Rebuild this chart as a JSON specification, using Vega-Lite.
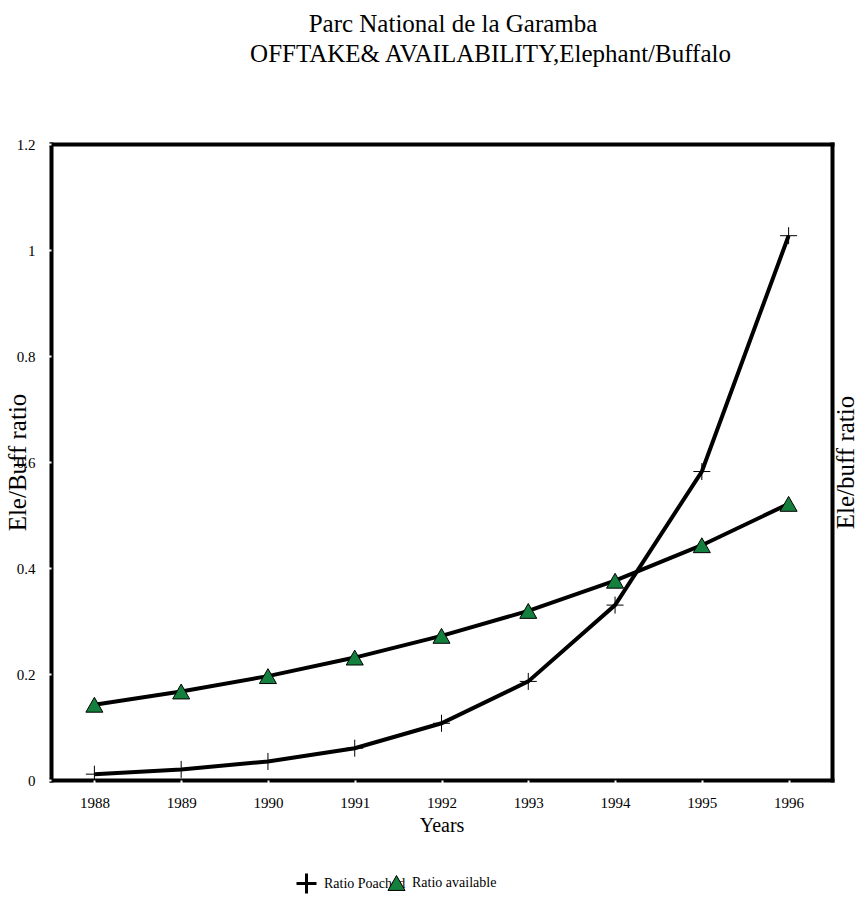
{
  "$schema": "https://vega.github.io/schema/vega-lite/v6.json",
  "width": 781,
  "height": 636,
  "autosize": {"type": "none"},
  "padding": {"left": 51, "top": 144, "right": 25, "bottom": 144},
  "background": "white",
  "title": {
    "text": ["Parc National de la Garamba\u00a0\u00a0\u00a0\u00a0\u00a0\u00a0\u00a0\u00a0\u00a0\u00a0\u00a0\u00a0\u200b", "OFFTAKE& AVAILABILITY,Elephant/Buffalo"],
    "anchor": "middle",
    "frame": "group",
    "dx": 49,
    "baseline": "bottom",
    "offset": 45,
    "lineHeight": 30,
    "font": "Liberation Serif",
    "fontSize": 25,
    "fontWeight": "normal",
    "color": "black"
  },
  "data": {
    "values": [
      {"year": "1988", "series": "Ratio Poached", "ratio": 0.011},
      {"year": "1989", "series": "Ratio Poached", "ratio": 0.020},
      {"year": "1990", "series": "Ratio Poached", "ratio": 0.035},
      {"year": "1991", "series": "Ratio Poached", "ratio": 0.060},
      {"year": "1992", "series": "Ratio Poached", "ratio": 0.107},
      {"year": "1993", "series": "Ratio Poached", "ratio": 0.186},
      {"year": "1994", "series": "Ratio Poached", "ratio": 0.330},
      {"year": "1995", "series": "Ratio Poached", "ratio": 0.582},
      {"year": "1996", "series": "Ratio Poached", "ratio": 1.027},
      {"year": "1988", "series": "Ratio available", "ratio": 0.142},
      {"year": "1989", "series": "Ratio available", "ratio": 0.167},
      {"year": "1990", "series": "Ratio available", "ratio": 0.196},
      {"year": "1991", "series": "Ratio available", "ratio": 0.231},
      {"year": "1992", "series": "Ratio available", "ratio": 0.272},
      {"year": "1993", "series": "Ratio available", "ratio": 0.319},
      {"year": "1994", "series": "Ratio available", "ratio": 0.376},
      {"year": "1995", "series": "Ratio available", "ratio": 0.443},
      {"year": "1996", "series": "Ratio available", "ratio": 0.521}
    ]
  },
  "layer": [
    {
      "mark": {"type": "line", "color": "black", "strokeWidth": 4, "strokeJoin": "miter"},
      "encoding": {
        "x": {
          "field": "year", "type": "ordinal",
          "scale": {"type": "point", "padding": 0.5},
          "axis": {
            "orient": "bottom",
            "title": "Years",
            "labelAngle": 0,
            "titleFontSize": 20,
            "titlePadding": 5,
            "labelFontSize": 15,
            "tickSize": 4,
            "tickColor": "rgba(0,0,0,0)",
            "labelPadding": 11
          }
        },
        "y": {
          "field": "ratio", "type": "quantitative",
          "scale": {"domain": [0, 1.2], "nice": false, "zero": true},
          "axis": {
            "orient": "left",
            "title": "Ele/Buff ratio",
            "values": [0, 0.2, 0.4, 0.6, 0.8, 1, 1.2],
            "format": "~g",
            "labelFontSize": 15,
            "tickSize": 4,
            "tickColor": "rgba(0,0,0,0)",
            "labelPadding": 12,
            "titleFontSize": 25,
            "titleAngle": -90,
            "titleX": -26,
            "titleY": 318,
            "titleAlign": "center",
            "titleBaseline": "alphabetic"
          }
        },
        "detail": {"field": "series", "type": "nominal"}
      }
    },
    {
      "transform": [{"filter": "datum.series === 'Ratio Poached'"}],
      "mark": {"type": "point", "shape": "M-1,0H1M0,-1V1", "filled": false, "opacity": 1, "strokeWidth": 1, "size": 289},
      "encoding": {
        "x": {
          "field": "year", "type": "ordinal",
          "axis": {"orient": "top", "labels": false, "ticks": false, "title": null, "domain": true}
        },
        "y": {
          "field": "ratio", "type": "quantitative",
          "axis": {
            "orient": "right",
            "labels": false,
            "ticks": false,
            "domain": true,
            "title": "Ele/buff ratio",
            "titleFontSize": 25,
            "titleAngle": -90,
            "titleX": 21,
            "titleY": 318,
            "titleAlign": "center",
            "titleBaseline": "alphabetic"
          }
        },
        "stroke": {
          "field": "series", "type": "nominal",
          "scale": {"domain": ["Ratio Poached"], "range": ["black"]},
          "legend": {
            "title": null,
            "orient": "none",
            "legendX": 244,
            "legendY": 728,
            "padding": 0,
            "symbolSize": 400,
            "symbolStrokeWidth": 3,
            "symbolStrokeColor": "black",
            "labelFontSize": 14,
            "labelFont": "Liberation Serif",
            "labelColor": "black",
            "labelOffset": 6,
            "zindex": 0
          }
        }
      }
    },
    {
      "transform": [{"filter": "datum.series === 'Ratio available'"}],
      "mark": {"type": "point", "shape": "M0,-0.875L1,0.875L-1,0.875Z", "filled": true, "opacity": 1, "strokeWidth": 1, "stroke": "black", "size": 289},
      "encoding": {
        "x": {
          "field": "year", "type": "ordinal",
          "axis": {
            "orient": "bottom", "labels": false, "domain": false, "title": null,
            "ticks": true, "tickColor": "white", "tickWidth": 2, "tickSize": 4, "zindex": 1,
            "encode": {"ticks": {"y": {"value": -3}, "y2": {"value": 3}}}
          }
        },
        "y": {
          "field": "ratio", "type": "quantitative",
          "axis": {
            "orient": "left", "labels": false, "domain": false, "title": null,
            "values": [0, 0.2, 0.4, 0.6, 0.8, 1, 1.2],
            "ticks": true, "tickColor": "white", "tickWidth": 2, "tickSize": 4, "zindex": 1,
            "encode": {"ticks": {"x": {"value": 3}, "x2": {"value": -3}}}
          }
        },
        "fill": {
          "field": "series", "type": "nominal",
          "scale": {"domain": ["Ratio available"], "range": ["#13803d"]},
          "legend": {
            "title": null,
            "orient": "none",
            "legendX": 336.5,
            "legendY": 730,
            "padding": 0,
            "symbolSize": 289,
            "symbolStrokeWidth": 1,
            "symbolStrokeColor": "black",
            "labelFontSize": 14,
            "labelFont": "Liberation Serif",
            "labelColor": "black",
            "labelOffset": 6.5,
            "zindex": 1
          }
        }
      }
    }
  ],
  "resolve": {"axis": {"x": "independent", "y": "independent"}},
  "config": {
    "font": "Liberation Serif",
    "view": {"stroke": null},
    "axis": {
      "domainColor": "black",
      "domainWidth": 4,
      "domainCap": "square",
      "labelColor": "black",
      "titleColor": "black",
      "titleFontWeight": "normal",
      "labelFont": "Liberation Serif",
      "titleFont": "Liberation Serif",
      "grid": false
    }
  }
}
